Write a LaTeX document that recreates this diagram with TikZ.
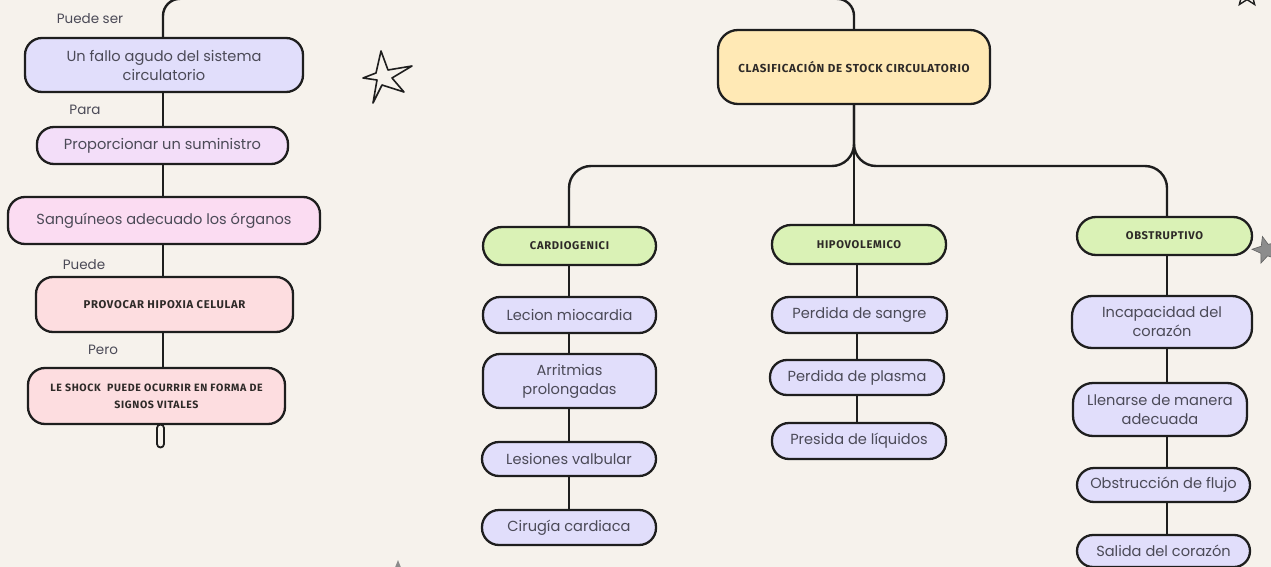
\documentclass[tikz,border=0pt]{standalone}
\usepackage{fontspec}
\setmainfont{Poppins}
\newfontfamily\capsfont[LetterSpace=6]{Fira Sans}
\usetikzlibrary{shapes.geometric}
\definecolor{bg}{HTML}{F6F2EC}
\definecolor{ink}{HTML}{1E1E1E}
\definecolor{txtgray}{HTML}{4B4A57}
\definecolor{capink}{HTML}{2E2A28}
\definecolor{lav}{HTML}{E1DEFB}
\definecolor{lilac}{HTML}{F3DEF9}
\definecolor{pinkA}{HTML}{FBDCF2}
\definecolor{rose}{HTML}{FDDDE0}
\definecolor{yel}{HTML}{FFE9B5}
\definecolor{grn}{HTML}{DAF2B6}
\definecolor{stargray}{HTML}{8C8C8C}
\tikzset{
  box/.style={draw=ink, line width=2.3pt, rounded corners=17pt, align=center, inner sep=0pt,
    text=txtgray, font=\fontsize{14.6}{19}\selectfont},
  capbox/.style={box, text=capink, font=\capsfont\bfseries\fontsize{11.3}{17}\selectfont},
  pill/.style={box, fill=lav, minimum width=174pt},
  lbl/.style={text=txtgray, font=\fontsize{13.5}{16}\selectfont, inner sep=0pt},
  conn/.style={draw=ink, line width=2.4pt},
}
\begin{document}
\begin{tikzpicture}[x=1pt,y=-1pt]
\useasboundingbox (0,0) rectangle (1271,567);
\clip (0,0) rectangle (1271,567);
\fill[bg] (0,0) rectangle (1271,567);

% spine coordinates
\coordinate (spL) at (163,0);
\coordinate (topline) at (500,-1.2);
\coordinate (fork) at (856,166);
\coordinate (spC) at (569,0);
\coordinate (spH) at (857,0);
\coordinate (spO) at (1167,0);

% left column
\node[box, fill=lav, minimum width=278pt, minimum height=54pt] (b1) at (164,65) {Un fallo agudo del sistema\\circulatorio};
\node[box, fill=lilac, minimum width=251pt, minimum height=37pt] (b2) at (162.5,145.5) {Proporcionar un suministro};
\node[box, fill=pinkA, minimum width=312pt, minimum height=47pt] (b3) at (164,220.5) {Sangu\'ineos adecuado los \'organos};
\node[capbox, fill=rose, minimum width=257pt, minimum height=55pt] (b4) at (164.5,304.5) {PROVOCAR HIPOXIA CELULAR};
\node[capbox, fill=rose, minimum width=257pt, minimum height=56pt, font=\capsfont\bfseries\fontsize{10.6}{17}\selectfont] (b5) at (156.5,396) {LE SHOCK\ \ PUEDE OCURRIR EN FORMA DE\\SIGNOS VITALES};
\node[draw=ink, line width=1.8pt, fill=bg, rounded corners=3.5pt, minimum width=7pt, minimum height=23pt, inner sep=0pt] (stub) at (160.5,436) {};

\node[lbl] (l1) at (90,19) {Puede ser};
\node[lbl] (l2) at (85,110) {Para};
\node[lbl] (l3) at (84,265) {Puede};
\node[lbl] (l4) at (103,350) {Pero};

% header
\node[capbox, fill=yel, minimum width=272pt, minimum height=74pt, rounded corners=20pt, font=\capsfont\bfseries\fontsize{11.6}{14}\selectfont] (hdr) at (854,67) {CLASIFICACI\'ON DE STOCK CIRCULATORIO};

% category nodes
\node[capbox, fill=grn, minimum width=173pt, minimum height=38pt, rounded corners=19pt, font=\capsfont\bfseries\fontsize{11.2}{14}\selectfont] (cardio) at (569.5,246) {CARDIOGENICI};
\node[capbox, fill=grn, minimum width=174pt, minimum height=39pt, rounded corners=19pt, font=\capsfont\bfseries\fontsize{11.2}{14}\selectfont] (hipo) at (859,244.5) {HIPOVOLEMICO};
\node[capbox, fill=grn, minimum width=175pt, minimum height=38pt, rounded corners=19pt, font=\capsfont\bfseries\fontsize{11.2}{14}\selectfont] (obst) at (1164.5,236) {OBSTRUPTIVO};

% cardiogenic children
\node[pill, minimum width=173pt, minimum height=36pt] (c1) at (569.5,315) {Lecion miocardia};
\node[pill, minimum width=173pt, minimum height=54pt] (c2) at (569.5,381) {Arritmias\\prolongadas};
\node[pill, minimum width=174pt, minimum height=34pt] (c3) at (569,459) {Lesiones valbular};
\node[pill, minimum width=174pt, minimum height=35pt] (c4) at (569,527.5) {Cirug\'ia cardiaca};

% hipovolemic children
\node[pill, minimum width=175pt, minimum height=36pt] (h1) at (859.5,315) {Perdida de sangre};
\node[pill, minimum width=174pt, minimum height=35pt] (h2) at (857,377.5) {Perdida de plasma};
\node[pill, minimum width=174pt, minimum height=36pt] (h3) at (859,441) {Presida de l\'iquidos};

% obstructive children
\node[pill, minimum width=180pt, minimum height=52pt, rounded corners=20pt] (o1) at (1162,322) {Incapacidad del\\coraz\'on};
\node[pill, minimum width=174pt, minimum height=53pt, rounded corners=20pt] (o2) at (1160,409.5) {Llenarse de manera\\adecuada};
\node[pill, minimum width=173pt, minimum height=34pt] (o3) at (1163.5,485) {Obstrucci\'on de flujo};
\node[pill, minimum width=173pt, minimum height=32pt, rounded corners=16pt] (o4) at (1163.5,551) {Salida del coraz\'on};

% connectors : left column
\draw[conn, rounded corners=17pt] (b1.north -| spL) |- (topline) -| (hdr.north);
\draw[conn] (b1.south -| spL) -- (b2.north -| spL);
\draw[conn] (b2.south -| spL) -- (b3.north -| spL);
\draw[conn] (b3.south -| spL) -- (b4.north -| spL);
\draw[conn] (b4.south -| spL) -- (b5.north -| spL);

% connectors : fork
\draw[conn, rounded corners=22pt] (hdr.south) |- (fork -| spC) -- (cardio.north -| spC);
\draw[conn, rounded corners=22pt] (hdr.south) |- (fork -| spO) -- (obst.north -| spO);
\draw[conn] (hdr.south) -- (hipo.north -| hdr.south);

% connectors : columns
\draw[conn] (cardio.south -| spC) -- (c1.north -| spC);
\draw[conn] (c1.south -| spC) -- (c2.north -| spC);
\draw[conn] (c2.south -| spC) -- (c3.north -| spC);
\draw[conn] (c3.south -| spC) -- (c4.north -| spC);
\draw[conn] (hipo.south -| spH) -- (h1.north -| spH);
\draw[conn] (h1.south -| spH) -- (h2.north -| spH);
\draw[conn] (h2.south -| spH) -- (h3.north -| spH);
\draw[conn] (obst.south -| spO) -- (o1.north -| spO);
\draw[conn] (o1.south -| spO) -- (o2.north -| spO);
\draw[conn] (o2.south -| spO) -- (o3.north -| spO);
\draw[conn] (o3.south -| spO) -- (o4.north -| spO);

% decorative stars
\draw[ink, line width=1.6pt, line join=round, fill=bg]
  (381,51) -- (388,70) -- (412,66) -- (392,78) -- (404,92) -- (382,85) -- (373,103) -- (377,80) -- (363,78) -- (376,73) -- cycle;
\node[star, star points=5, star point ratio=2.3, fill=stargray, draw=stargray!70!black, line width=0.6pt, minimum size=28pt, inner sep=0pt, rotate=15] (s1) at (1266,250) {};
\node[star, star points=5, star point ratio=2.3, draw=ink, line width=1.4pt, fill=bg, minimum size=26pt, inner sep=0pt] (s2) at (1247,-6) {};
\node[star, star points=5, star point ratio=2.3, fill=stargray, minimum size=22pt, inner sep=0pt] (s3) at (398,571) {};
\end{tikzpicture}
\end{document}
